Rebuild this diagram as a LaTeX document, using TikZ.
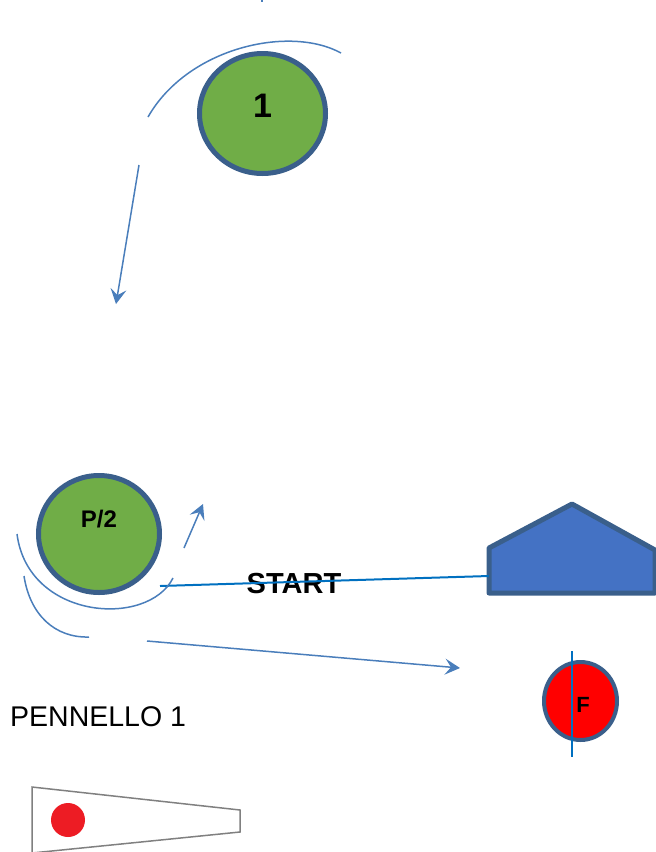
\documentclass[tikz,border=0pt]{standalone}
\usepackage{fontspec}
\setmainfont{Liberation Sans}
\usepackage{tikz}
\usepackage{xcolor}
\usetikzlibrary{arrows, arrows.meta, shapes.geometric, calc, positioning}

\definecolor{boagreen}{HTML}{70AD47}
\definecolor{boaedge}{HTML}{3A5F8B}
\definecolor{trackblue}{HTML}{4A7EBB}
\definecolor{lineblue}{HTML}{0070C0}
\definecolor{homeblue}{HTML}{4472C4}
\definecolor{flagred}{HTML}{ED1C24}

\tikzset{
  boa/.style={draw=boaedge, line width=5pt, fill=boagreen, ellipse, inner sep=0pt},
  track/.style={trackblue, line width=1.5pt},
  trackarrow/.style={track, -{Stealth[length=15pt, width=16pt, inset=6pt, fill=trackblue]}}
}

\begin{document}
\begin{tikzpicture}[x=1pt, y=-1pt]
  \useasboundingbox (0,0) rectangle (656,852);

  % boe
  \node[boa, minimum width=126pt, minimum height=120pt,
        label={[font=\fontsize{34}{36}\selectfont\bfseries, yshift=8pt]center:1}] (b1) at (262.5,113.5) {};
  \node[boa, minimum width=121pt, minimum height=117pt,
        label={[font=\fontsize{24}{26}\selectfont\bfseries, yshift=15pt]center:P/2}] (b2) at (99,534) {};
  \node[draw=boaedge, line width=4pt, fill=red, ellipse, inner sep=0pt,
        minimum width=73pt, minimum height=78pt] (fin) at (580.5,701) {};
  \coordinate (fintop) at (572,651);
  \coordinate (finbot) at (572,757);
  \draw[lineblue, line width=1.5pt] (fintop) -- (finbot);
  \node[font=\fontsize{22}{24}\selectfont\bfseries] (ftxt) at (583,705) {F};

  % barca comitato
  \draw[boaedge, line width=5pt, fill=homeblue, line join=round]
    (489,548) -- (572,504) -- (655,550) -- (655,593) -- (489,593) -- cycle;
  \coordinate (home) at (489,576);

  % linea di partenza
  \node[font=\fontsize{29}{31}\selectfont\bfseries] (start) at (294,584) {START};
  \coordinate (pin) at (160,586);
  \draw[lineblue, line width=2pt] (pin) -- (home);

  % percorso
  \coordinate (a1) at (148,117);
  \coordinate (a2) at (341,53);
  \draw[track] (a1) .. controls (188,47) and (290,25) .. (a2);
  \coordinate (d1) at (139,165);
  \coordinate (d2) at (116,304);
  \draw[trackarrow] (d1) -- (d2);
  \coordinate (top1) at (262,0);
  \coordinate (top2) at (262,2);
  \draw[track] (top1) -- (top2);

  \coordinate (c1) at (17,534);
  \coordinate (c2) at (173,578);
  \draw[track] (c1) .. controls (28,620) and (148,628) .. (c2);
  \coordinate (e1) at (24,576);
  \coordinate (e2) at (89,637);
  \draw[track] (e1) .. controls (30,615) and (55,638) .. (e2);
  \coordinate (u1) at (184,548);
  \coordinate (u2) at (203,504);
  \draw[trackarrow] (u1) -- (u2);
  \coordinate (g1) at (147,641);
  \coordinate (g2) at (460,668);
  \draw[trackarrow] (g1) -- (g2);

  % pennello
  \node[anchor=base west, inner sep=0pt, font=\fontsize{28.5}{30}\selectfont] (pen) at (10,726) {PENNELLO 1};
  \draw[gray, line width=1.5pt, fill=white]
    (32,853) -- (32,787) -- (240,810) -- (240,832) -- (32,853);
  \node[circle, fill=flagred, minimum size=34pt, inner sep=0pt] (dot) at (68,820) {};
\end{tikzpicture}
\end{document}
